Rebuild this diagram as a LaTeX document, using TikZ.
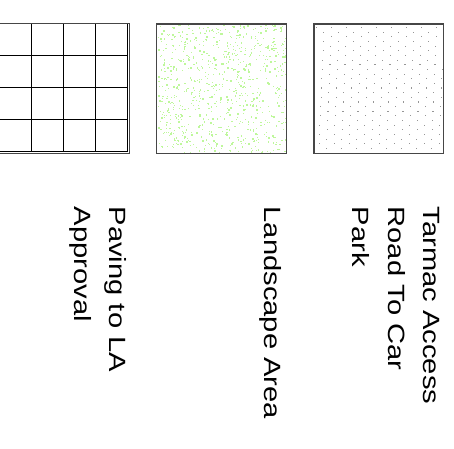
\documentclass[tikz,border=0pt]{standalone}
\usepackage{fontspec}
\setmainfont{Liberation Sans}
\definecolor{speck}{RGB}{190,247,155}
\definecolor{boxline}{RGB}{70,70,70}
\definecolor{dotgrey}{RGB}{150,150,150}
\begin{document}
\begin{tikzpicture}[x=1pt,y=1pt,
  panel/.style={draw=boxline, line width=1.3pt},
  gridline/.style={draw=black, line width=0.9pt},
  lbl/.style={rotate=-90, anchor=north west, align=left, inner sep=0pt,
    font=\fontsize{23.5}{35.5}\selectfont, xscale=1.24}]
\useasboundingbox (0,0) rectangle (454,-448);
% paving grid
\begin{scope}
\clip (0,-22) rectangle (131,-155);
\foreach \gx in {31.7,63.7,95.7,127.7}
  \draw[gridline] (\gx,-23.3) -- (\gx,-152.3);
\foreach \gy in {23.3,55.5,87.7,119.9,151.7}
  \draw[gridline] (-1,-\gy) -- (128.3,-\gy);
\draw[panel] (-1,-23.3) rectangle (129.3,-153.3);
\end{scope}
% landscape speckles
\pgfmathsetseed{4242}
\foreach \i in {1,...,800}{
  \pgfmathsetmacro\xx{157.5+rnd*128}
  \pgfmathsetmacro\yy{24.5+rnd*128}
  \pgfmathsetmacro\ss{0.9+rnd*0.8}
  \fill[speck] (\xx,-\yy) rectangle ++(\ss,-\ss);
}
\draw[panel] (156.7,-24) rectangle (286.7,-153.3);
% tarmac dots
\foreach \r in {0,...,27}{
  \pgfmathsetmacro\yy{27+\r*4.65}
  \pgfmathsetmacro\off{mod(\r*7.3,15)}
  \foreach \c in {0,...,8}{
    \pgfmathsetmacro\xx{316+\off+\c*15}
    \ifdim\xx pt<442pt
      \fill[dotgrey] (\xx,-\yy) rectangle ++(1.1,-1.1);
    \fi
  }
}
\draw[panel] (314,-24) rectangle (443.7,-153.7);
% labels
\node[lbl] (paving) at (127,-206.5) {Paving to LA\\Approval};
\node[lbl] (landscape) at (282,-206.5) {Landscape Area};
\node[lbl] (tarmac) at (440,-206.5) {Tarmac Access\\Road To Car\\Park};
\end{tikzpicture}
\end{document}
